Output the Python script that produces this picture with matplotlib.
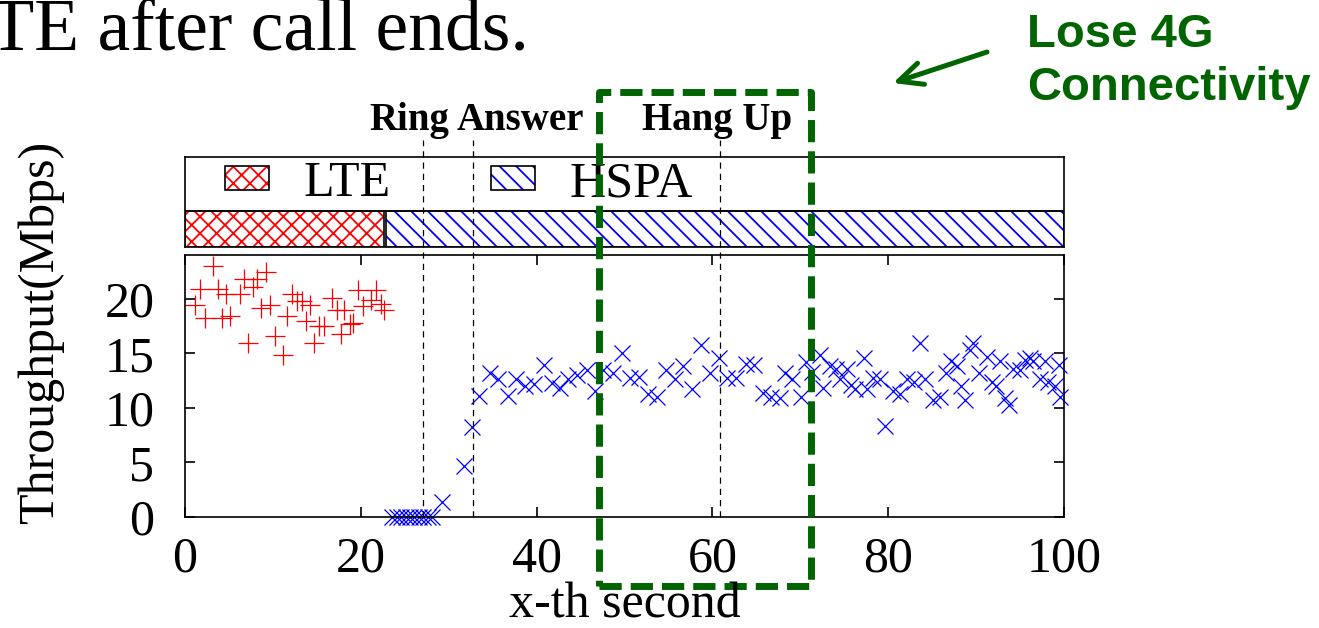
import matplotlib
matplotlib.use('Agg')
import matplotlib.pyplot as plt
from matplotlib import transforms
from matplotlib.patches import Patch, Rectangle, FancyArrowPatch

# LTE throughput samples (second, Mbps)
lte_t = [1.1, 1.7, 2.3, 3.2, 3.7, 4.2, 4.7, 5.1, 6.3, 6.75, 7.2, 7.7, 8.2, 8.7,
         9.2, 9.7, 10.2, 11.2, 11.6, 12.2, 12.7, 13.3, 13.8, 14.2, 14.7, 15.3,
         15.8, 16.7, 17.3, 17.7, 18.1, 18.8, 19.1, 19.7, 20.2, 21.2, 21.7, 22.3, 22.6]
lte_tput = [19.4, 20.9, 18.2, 23.0, 20.9, 18.2, 20.4, 18.4, 20.4, 21.8, 15.9, 21.1,
            21.8, 19.1, 22.4, 19.4, 16.6, 14.8, 18.4, 20.4, 19.8, 19.8, 18.0, 19.4,
            15.9, 17.5, 17.5, 20.1, 19.0, 16.8, 19.0, 17.7, 17.8, 20.8, 19.3, 19.9,
            20.8, 19.5, 19.0]

# HSPA throughput samples (second, Mbps)
hspa_t = [23.6, 24.1, 24.6, 25.1, 25.6, 26.1, 26.6, 27.1, 27.6, 28.1, 29.2, 31.7,
          32.7, 33.5, 34.7, 35.6, 36.7, 37.7, 38.7, 39.7, 40.8, 41.7, 42.7, 43.6,
          44.6, 45.7, 46.6, 47.6, 48.7, 49.7, 50.6, 51.7, 52.7, 53.7, 54.7, 55.7,
          56.7, 57.7, 58.7, 59.7, 60.7, 61.7, 62.7, 63.8, 64.7, 65.8, 66.7, 67.7,
          68.3, 69.0, 70.1, 70.7, 71.3, 72.2, 72.6, 73.4, 74.1, 74.5, 75.3, 75.8,
          76.2, 77.2, 77.6, 78.3, 79.1, 79.6, 80.6, 81.3, 82.1, 82.9, 83.6, 84.2,
          85.1, 85.9, 86.6, 87.2, 87.8, 88.3, 88.7, 89.3, 89.7, 90.3, 91.2, 91.8,
          92.3, 92.7, 93.3, 93.7, 94.2, 95.0, 95.6, 96.1, 96.5, 97.3, 97.8, 98.2,
          99.0, 99.4, 99.6]
hspa_tput = [0, 0, 0, 0, 0, 0, 0, 0, 0, 0, 1.4, 4.7,
             8.2, 11.1, 13.2, 12.6, 11.1, 12.6, 12.0, 12.2, 13.9, 12.3, 11.8, 12.6,
             13.0, 13.5, 11.5, 13.5, 13.2, 15.0, 12.7, 12.8, 11.3, 11.0, 13.5, 12.6,
             13.8, 11.7, 15.8, 13.2, 14.6, 12.7, 12.7, 14.0, 13.9, 11.4, 11.0, 10.9,
             13.2, 12.6, 11.0, 14.2, 13.3, 14.8, 11.8, 13.8, 13.6, 12.6, 13.6, 12.1,
             11.7, 14.6, 11.7, 12.7, 12.6, 8.3, 11.5, 11.3, 12.6, 12.4, 15.9, 12.6,
             10.7, 11.0, 13.2, 14.3, 13.8, 12.0, 10.7, 15.3, 15.9, 13.2, 14.7, 12.4,
             12.0, 14.3, 10.9, 10.3, 13.6, 13.5, 14.4, 14.6, 14.3, 12.6, 14.3, 12.4,
             12.0, 13.9, 11.0]

# serving radio over time
radio_names = ['LTE', 'HSPA']
radio_start = [0, 22.9]
radio_end = [22.6, 100]

# call events
event_t = [27.1, 32.8, 60.9]
event_names = ['Ring', 'Answer', 'Hang Up']

x_ticks = [0, 20, 40, 60, 80, 100]
y_ticks = [0, 5, 10, 15, 20]

W, H = 1319, 628
GREEN = '#006400'


def fx(px):
    return px / W


def fy(py):
    return 1 - py / H


plt.rcParams['font.family'] = 'Liberation Serif'
plt.rcParams['hatch.linewidth'] = 1.3

fig = plt.figure(figsize=(W / 100, H / 100), dpi=100)
ax_top = fig.add_axes([fx(185), fy(247), fx(1064) - fx(185), fy(157) - fy(247)])
ax = fig.add_axes([fx(185), fy(517), fx(1064) - fx(185), fy(255) - fy(517)])

# --- radio bar + legend ---
radio_colors = ['red', 'blue']
radio_hatch = ['xx', '\\\\']
bar_h = 0.4
ax_top.set_xlim(0, 100)
ax_top.set_ylim(0, 1)
ax_top.set_xticks([])
ax_top.set_yticks([])
ax_top.patch.set_alpha(0)
for s, e, col, hatch in zip(radio_start, radio_end, radio_colors, radio_hatch):
    ax_top.barh(bar_h / 2, e - s, left=s, height=bar_h, facecolor='none',
                edgecolor=col, hatch=hatch, lw=0)
    ax_top.barh(bar_h / 2, e - s, left=s, height=bar_h, facecolor='none',
                edgecolor='black', lw=1.2)
ax_top.axhline(bar_h, color='black', lw=1.2)
for sp in ax_top.spines.values():
    sp.set_linewidth(1.2)

handles = [(Patch(facecolor='white', edgecolor=c, hatch=h, lw=0),
            Patch(facecolor='none', edgecolor='black', lw=1.2))
           for c, h in zip(radio_colors, radio_hatch)]
ax_top.legend(handles, radio_names, loc='center left', bbox_to_anchor=(0.045, 0.7),
              ncol=2, frameon=False, fontsize=36, handlelength=0.88,
              handleheight=0.36, handletextpad=0.7, columnspacing=2.0,
              borderpad=0, borderaxespad=0)

label_x = [25.5, 38.1, 60.5]
blend = transforms.blended_transform_factory(ax_top.transData, ax_top.transAxes)
for lx, name in zip(label_x, event_names):
    ax_top.text(lx, 1.3, name, transform=blend, ha='center', va='baseline',
                fontsize=28, fontweight='bold')

# --- throughput scatter ---
ax.plot(lte_t, lte_tput, ls='none', marker='+', ms=14.4, mew=0.9, color='red',
        clip_on=False)
ax.plot(hspa_t, hspa_tput, ls='none', marker='x', ms=11.5, mew=0.9, color='blue',
        clip_on=False)
for t in event_t:
    ax.axvline(t, ymin=0, ymax=(517 - 140) / 262, clip_on=False, color='black',
               lw=0.9, ls=(0, (5, 4)))
ax.set_xlim(0, 100)
ax.set_ylim(0, 24)
ax.set_xticks(x_ticks)
ax.set_yticks(y_ticks)
ax.tick_params(axis='both', direction='in', length=7, width=1.2, top=True,
               right=True, labelsize=36)
ax.tick_params(axis='x', pad=14)
ax.tick_params(axis='y', pad=22)
for sp in ax.spines.values():
    sp.set_linewidth(1.2)

fig.text(fx(41), fy(332), 'Throughput(Mbps)', rotation=90, ha='center',
         va='center', fontsize=36)
fig.text(fx(625), fy(618), 'x-th second', ha='center', va='baseline', fontsize=36)
fig.text(fx(529), fy(50), 'LTE after call ends.', ha='right', va='baseline',
         fontsize=53)

# highlight box and note
box = Rectangle((fx(599), fy(586)), fx(811) - fx(599), fy(92) - fy(586),
                transform=fig.transFigure, fill=False, edgecolor=GREEN, lw=5,
                ls=(0, (3.2, 1.3)), joinstyle='round')
fig.add_artist(box)
arrow = FancyArrowPatch((fx(987), fy(52)), (fx(893), fy(83)),
                        transform=fig.transFigure, color=GREEN, lw=3.6,
                        arrowstyle='->,head_length=0.85,head_width=0.4',
                        mutation_scale=20, shrinkA=0, shrinkB=0)
fig.add_artist(arrow)
fig.text(fx(1027), fy(47), 'Lose 4G', ha='left', va='baseline', fontsize=34,
         fontweight='bold', family='Liberation Sans', color=GREEN)
fig.text(fx(1027), fy(100), 'Connectivity', ha='left', va='baseline', fontsize=34,
         fontweight='bold', family='Liberation Sans', color=GREEN)

fig.savefig('out.png', dpi=100)
